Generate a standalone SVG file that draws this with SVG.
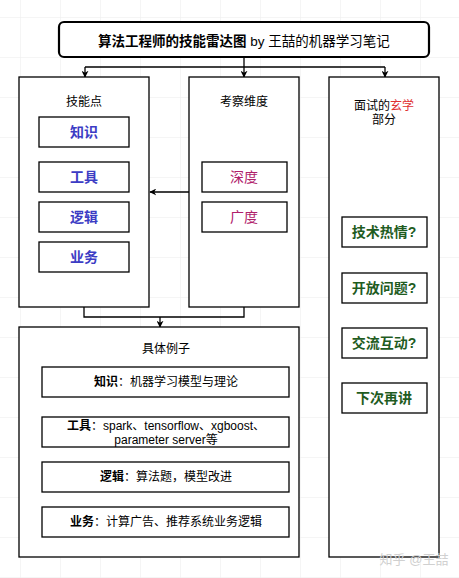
<svg xmlns="http://www.w3.org/2000/svg" width="459" height="578" viewBox="0 0 459 578">
<defs>
<pattern id="grid" x="20" y="17" width="40" height="40" patternUnits="userSpaceOnUse">
<path d="M0 0H40M0 0V40" fill="none" stroke="#ebebeb" stroke-width="1"/>
</pattern>
<marker id="arr" viewBox="0 0 10 10" refX="9" refY="5" markerWidth="7" markerHeight="7" markerUnits="userSpaceOnUse" orient="auto">
<path d="M0 0L10 5L0 10L3 5Z" fill="#000"/>
</marker>
</defs>
<style>
.box{fill:#fff;stroke:#000;stroke-width:1.3}
.ln{fill:none;stroke:#000;stroke-width:1.3}
text{font-family:"Liberation Sans","Noto Sans CJK SC",sans-serif;text-anchor:middle;fill:#000}
.lab{font-size:12px}
.blue{font-size:14px;font-weight:bold;fill:#3c3cc4}
.red{font-size:14px;fill:#b0206a}
.green{font-size:14px;font-weight:bold;fill:#1f5c1f}
.item{font-size:12px}
.b{font-weight:bold}
</style>
<rect width="459" height="578" fill="#fff"/>
<rect width="459" height="578" fill="url(#grid)"/>

<g id="connectors">
<path class="ln" d="M244 57V67"/>
<path class="ln" d="M85 67H385"/>
<path class="ln" d="M85 67V77" marker-end="url(#arr)"/>
<path class="ln" d="M244 67V77" marker-end="url(#arr)"/>
<path class="ln" d="M385 67V77" marker-end="url(#arr)"/>
<path class="ln" d="M189 192H150" marker-end="url(#arr)"/>
<path class="ln" d="M84 307V317H244V307"/>
<path class="ln" d="M160 317V327" marker-end="url(#arr)"/>
</g>

<g id="title">
<rect x="59" y="22" width="370" height="35" rx="5" fill="#fff" stroke="#000" stroke-width="2.2"/>
<text x="244" y="45.5" style="font-size:13.5px"><tspan font-weight="bold">算法工程师的技能雷达图</tspan> by 王喆的机器学习笔记</text>
</g>

<g id="skills">
<rect class="box" x="19" y="77" width="130" height="230"/>
<text class="lab" x="84" y="106">技能点</text>
</g>
<g id="skill-knowledge"><rect class="box" x="39" y="117" width="90" height="30"/><text class="blue" x="84" y="137">知识</text></g>
<g id="skill-tools"><rect class="box" x="39" y="162" width="90" height="30"/><text class="blue" x="84" y="182">工具</text></g>
<g id="skill-logic"><rect class="box" x="39" y="202" width="90" height="30"/><text class="blue" x="84" y="222">逻辑</text></g>
<g id="skill-business"><rect class="box" x="39" y="242" width="90" height="30"/><text class="blue" x="84" y="262">业务</text></g>

<g id="dimensions">
<rect class="box" x="189" y="77" width="110" height="230"/>
<text class="lab" x="244" y="106">考察维度</text>
</g>
<g id="dim-depth"><rect class="box" x="202" y="162" width="85" height="30"/><text class="red" x="244" y="182">深度</text></g>
<g id="dim-breadth"><rect class="box" x="202" y="202" width="85" height="30"/><text class="red" x="244" y="222">广度</text></g>

<g id="mystic">
<rect class="box" x="329" y="77" width="110" height="480"/>
<text class="lab" x="384" y="110">面试的<tspan fill="#e03030">玄学</tspan></text>
<text class="lab" x="384" y="124">部分</text>
</g>
<g id="m-passion"><rect class="box" x="342" y="217" width="85" height="30"/><text class="green" x="384" y="237">技术热情?</text></g>
<g id="m-open"><rect class="box" x="342" y="273" width="85" height="30"/><text class="green" x="384" y="293">开放问题?</text></g>
<g id="m-interact"><rect class="box" x="342" y="328" width="85" height="30"/><text class="green" x="384" y="348">交流互动?</text></g>
<g id="m-next"><rect class="box" x="342" y="383" width="85" height="30"/><text class="green" x="384" y="403">下次再讲</text></g>

<g id="examples">
<rect class="box" x="19" y="327" width="280" height="230"/>
<text class="lab" x="166" y="353">具体例子</text>
</g>
<g id="ex-knowledge"><rect class="box" x="42" y="367" width="247" height="30"/><text class="item" x="166" y="386"><tspan class="b">知识</tspan>：机器学习模型与理论</text></g>
<g id="ex-tools"><rect class="box" x="42" y="417" width="247" height="30"/><text class="item" x="166" y="430"><tspan class="b">工具</tspan>：spark、tensorflow、xgboost、</text><text class="item" x="166" y="444">parameter server等</text></g>
<g id="ex-logic"><rect class="box" x="42" y="462" width="247" height="30"/><text class="item" x="166" y="481"><tspan class="b">逻辑</tspan>：算法题，模型改进</text></g>
<g id="ex-business"><rect class="box" x="42" y="507" width="247" height="30"/><text class="item" x="166" y="526"><tspan class="b">业务</tspan>：计算广告、推荐系统业务逻辑</text></g>

<text x="414" y="564" style="font-size:13px;fill:#d0d0d0">知乎 @王喆</text>
</svg>
